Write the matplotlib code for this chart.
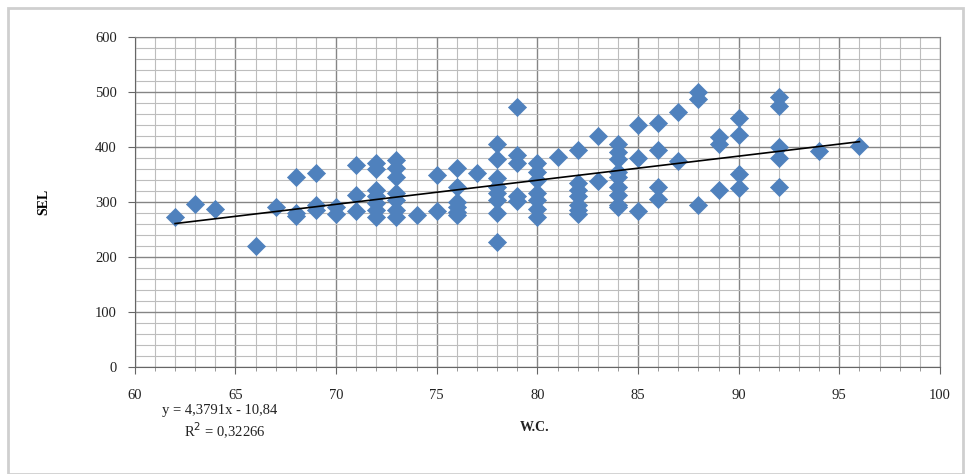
import matplotlib
matplotlib.use("Agg")
import matplotlib.pyplot as plt
from matplotlib.patches import Rectangle
from matplotlib.ticker import MultipleLocator

# values
wc = [62, 63, 64, 66, 67,
      68, 68, 68,
      69, 69, 69,
      70, 70,
      71, 71, 71,
      72, 72, 72, 72, 72, 72, 72,
      73, 73, 73, 73, 73, 73, 73,
      74,
      75, 75,
      76, 76, 76, 76, 76, 76,
      77,
      78, 78, 78, 78, 78, 78, 78, 78,
      79, 79, 79, 79, 79,
      80, 80, 80, 80, 80, 80, 80,
      81,
      82, 82, 82, 82, 82, 82, 82,
      83, 83,
      84, 84, 84, 84, 84, 84, 84, 84, 84,
      85, 85, 85,
      86, 86, 86, 86,
      87, 87,
      88, 88, 88,
      89, 89, 89,
      90, 90, 90, 90,
      92, 92, 92, 92, 92,
      94, 96]
sel = [273, 297, 288, 220, 290,
       346, 279, 274,
       352, 294, 285,
       290, 278,
       367, 312, 283,
       370, 360, 322, 310, 298, 285, 273,
       376, 361, 346, 316, 304, 285, 273,
       277,
       349, 283,
       361, 328, 300, 291, 282, 276,
       352,
       405, 378, 343, 328, 316, 304, 279, 228,
       473, 385, 370, 310, 302,
       370, 355, 340, 316, 304, 288, 273,
       382,
       394, 335, 322, 310, 295, 285, 278,
       420, 338,
       405, 390, 378, 355, 345, 328, 312, 295, 290,
       440, 380, 283,
       443, 394, 328, 305,
       464, 375,
       500, 488, 295,
       418, 405, 322,
       452, 422, 350, 325,
       490, 475, 400, 380, 328,
       392, 402]

trend_slope = 4.3791
trend_intercept = -10.84
eq_text = "y = 4,3791x - 10,84"
r2_text = "R$^2$ = 0,32266"

plt.rcParams['font.family'] = ['Liberation Serif', 'DejaVu Serif']

fig = plt.figure(figsize=(9.7, 4.74), dpi=100)
ax = fig.add_axes([0.139, 0.226, 0.83, 0.696])

# light frame round the whole chart
fig.patches.append(Rectangle((0.008, 0.0), 0.985, 0.983, transform=fig.transFigure,
                             fill=False, edgecolor='#cfcfcf', linewidth=2))

ax.set_xlim(60, 100)
ax.set_ylim(0, 600)
ax.xaxis.set_major_locator(MultipleLocator(5))
ax.xaxis.set_minor_locator(MultipleLocator(1))
ax.yaxis.set_major_locator(MultipleLocator(100))
ax.yaxis.set_minor_locator(MultipleLocator(20))
ax.grid(which='major', color='#858585', linewidth=1.0)
ax.grid(which='minor', color='#bdbdbd', linewidth=0.8)
ax.set_axisbelow(True)
for s in ax.spines.values():
    s.set_color('#858585')
ax.spines['bottom'].set_color('#666666')
ax.spines['left'].set_color('#666666')

ax.tick_params(which='major', direction='out', length=5, color='#666666',
               labelsize=10.5, labelcolor='#222222')
ax.tick_params(which='minor', direction='out', length=3, color='#888888')
ax.tick_params(axis='x', which='major', pad=11)
ax.tick_params(axis='y', which='major', pad=8)
ax.tick_params(axis='y', which='minor', length=0)

ax.scatter(wc, sel, marker='D', s=85, color='#4f81bd', edgecolors='#4f81bd',
           linewidths=0.5, zorder=3)

tx = [min(wc), max(wc)]
ax.plot(tx, [trend_slope * v + trend_intercept for v in tx], color='black',
        linewidth=1.2, zorder=4)

ax.set_ylabel('SEL', fontweight='bold', fontsize=10, labelpad=32)
fig.text(0.226, 0.133, eq_text, ha='center', va='center', fontsize=10.5,
         color='#222222')
fig.text(0.232, 0.091, r2_text, ha='center', va='center', fontsize=10.5,
         color='#222222')
fig.text(0.551, 0.098, 'W.C.', ha='center', va='center', fontweight='bold',
         fontsize=10, color='#222222')

fig.savefig('out.png', dpi=100)
